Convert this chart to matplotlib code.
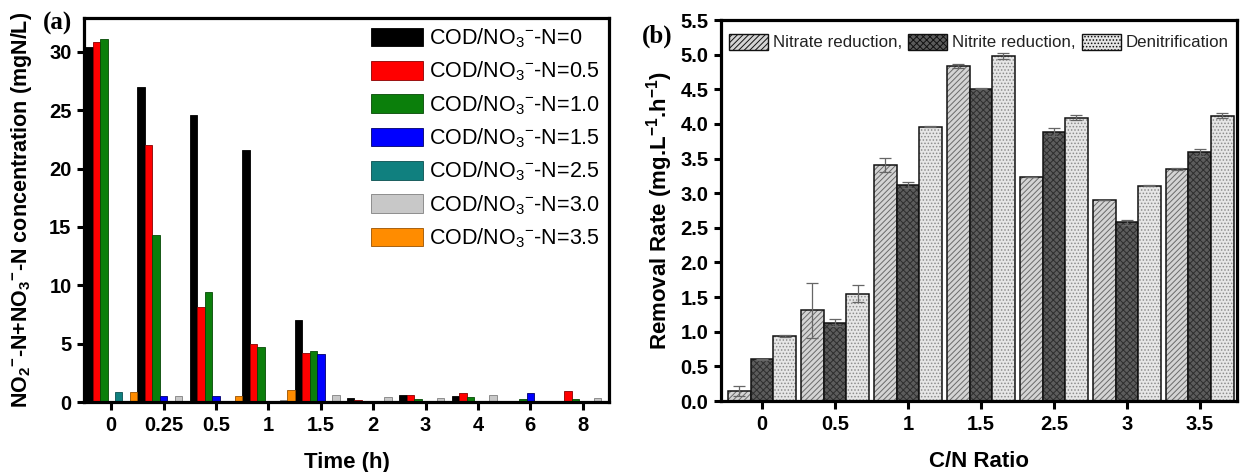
import numpy as np
import matplotlib
matplotlib.use("Agg")
import matplotlib.pyplot as plt
from matplotlib.patches import Patch

plt.rcParams['font.family'] = ['Liberation Sans', 'DejaVu Sans']
plt.rcParams['mathtext.fontset'] = 'custom'
plt.rcParams['mathtext.rm'] = 'Liberation Sans'
plt.rcParams['mathtext.it'] = 'Liberation Sans:italic'
plt.rcParams['mathtext.bf'] = 'Liberation Sans:bold'
plt.rcParams['hatch.linewidth'] = 0.7

# ---------------- panel (a): residual NOx-N over time ----------------
times = ['0', '0.25', '0.5', '1', '1.5', '2', '3', '4', '6', '8']
ratios_a = ['0', '0.5', '1.0', '1.5', '2.5', '3.0', '3.5']
conc_0 = [30.4, 27.0, 24.6, 21.6, 7.0, 0.35, 0.6, 0.5, 0.0, 0.0]
conc_05 = [30.8, 22.0, 8.1, 5.0, 4.2, 0.15, 0.6, 0.8, 0.0, 0.95]
conc_10 = [31.1, 14.3, 9.4, 4.7, 4.4, 0.0, 0.3, 0.4, 0.3, 0.25]
conc_15 = [0.0, 0.55, 0.55, 0.0, 4.1, 0.0, 0.0, 0.0, 0.8, 0.0]
conc_25 = [0.88, 0.0, 0.0, 0.0, 0.0, 0.0, 0.0, 0.0, 0.0, 0.0]
conc_30 = [0.0, 0.55, 0.0, 0.2, 0.6, 0.4, 0.35, 0.6, 0.0, 0.38]
conc_35 = [0.88, 0.0, 0.55, 1.05, 0.0, 0.0, 0.0, 0.0, 0.0, 0.0]
series_a = [conc_0, conc_05, conc_10, conc_15, conc_25, conc_30, conc_35]
colors_a = ['#000000', '#ff0000', '#0b7f0b', '#0000ff', '#10807f', '#c8c8c8', '#ff8c00']
edges_a = ['#000000', '#8a0000', '#064a06', '#00006a', '#0a4f4f', '#808080', '#9a5200']

# ---------------- panel (b): removal rates vs C/N ----------------
cn_ratio = ['0', '0.5', '1', '1.5', '2.5', '3', '3.5']
nitrate = [0.14, 1.31, 3.41, 4.84, 3.24, 2.90, 3.35]
nitrate_err = [0.07, 0.40, 0.10, 0.03, 0.0, 0.0, 0.02]
nitrite = [0.60, 1.13, 3.12, 4.51, 3.88, 2.58, 3.59]
nitrite_err = [0.01, 0.05, 0.04, 0.01, 0.06, 0.04, 0.05]
denit = [0.94, 1.55, 3.96, 4.98, 4.09, 3.11, 4.12]
denit_err = [0.01, 0.12, 0.01, 0.05, 0.04, 0.01, 0.04]
labels_b = ['Nitrate reduction,', 'Nitrite reduction,', 'Denitrification']

fig = plt.figure(figsize=(12.41, 4.72), dpi=100)
ax1 = fig.add_axes([0.0677, 0.1483, 0.4230, 0.8136])
ax2 = fig.add_axes([0.5810, 0.1504, 0.4158, 0.8072])

def style_axes(ax):
    for s in ax.spines.values():
        s.set_linewidth(2.3)
    ax.tick_params(axis='both', which='major', direction='out', width=2.2,
                   labelsize=14.5, pad=4)
    ax.tick_params(axis='x', length=6)
    ax.tick_params(axis='y', length=5)
    for lbl in ax.get_xticklabels() + ax.get_yticklabels():
        lbl.set_fontweight('bold')

# panel (a)
x = np.arange(len(times))
n = len(series_a)
w = 1.0 / n
for i, vals in enumerate(series_a):
    ax1.bar(x - 0.5 + w * (i + 0.5), vals, width=w, color=colors_a[i],
            edgecolor=edges_a[i], linewidth=0.6,
            label=r'COD/NO$_3{}^{-}$-N=' + ratios_a[i])
ax1.set_xlim(-0.52, len(times) - 0.5)
ax1.set_ylim(0, 32.9)
ax1.set_xticks(x)
ax1.set_xticklabels(times)
ax1.set_yticks([0, 5, 10, 15, 20, 25, 30])
style_axes(ax1)
ax1.set_xlabel('Time (h)', fontsize=16, fontweight='bold', labelpad=12)
ax1.set_ylabel(r'NO$_\mathbf{2}{}^\mathbf{-}$-N+NO$_\mathbf{3}{}^\mathbf{-}$-N concentration (mgN/L)',
               fontsize=15.5, fontweight='bold', labelpad=11)
ax1.legend(loc='upper right', frameon=False, fontsize=15.5, handlelength=2.4,
           handleheight=0.95, handletextpad=0.3, labelspacing=0.45,
           borderaxespad=0.0, bbox_to_anchor=(1.0, 1.0))

# panel (b)
xb = np.arange(len(cn_ratio))
wb = 0.31
styles_b = [
    dict(face='#d4d4d4', hatch='//////', hcol='#6a6a6a'),
    dict(face='#5c5c5c', hatch='xxxxx', hcol='#2e2e2e'),
    dict(face='#e6e6e6', hatch='.....', hcol='#8c8c8c'),
]
vals_b = [nitrate, nitrite, denit]
errs_b = [nitrate_err, nitrite_err, denit_err]
handles = []
for i, (vals, errs, st) in enumerate(zip(vals_b, errs_b, styles_b)):
    pos = xb + (i - 1) * wb
    ax2.bar(pos, vals, width=wb, color=st['face'], edgecolor=st['hcol'],
            hatch=st['hatch'], linewidth=0)
    ax2.bar(pos, vals, width=wb, fill=False, edgecolor='#111111', linewidth=1.1)
    ax2.errorbar(pos, vals, yerr=errs, fmt='none', ecolor='#666666',
                 elinewidth=0.9, capsize=4, capthick=0.9)
    handles.append(Patch(facecolor=st['face'], edgecolor=st['hcol'],
                         hatch=st['hatch'], linewidth=0))
ax2.set_xlim(-0.56, len(cn_ratio) - 0.49)
ax2.set_ylim(0, 5.5)
ax2.set_xticks(xb)
ax2.set_xticklabels(cn_ratio)
ax2.set_yticks(np.arange(0, 5.51, 0.5))
ax2.set_yticklabels([f'{v:.1f}' for v in np.arange(0, 5.51, 0.5)])
style_axes(ax2)
ax2.set_xlabel('C/N Ratio', fontsize=16, fontweight='bold', labelpad=12)
ax2.set_ylabel(r'Removal Rate (mg.L$^\mathbf{-1}$.h$^\mathbf{-1}$)',
               fontsize=16, fontweight='bold', labelpad=4)
leg = ax2.legend(handles, labels_b, loc='upper center', ncol=3, frameon=False,
                 fontsize=12.2, handlelength=2.3, handleheight=1.1,
                 handletextpad=0.3, columnspacing=0.35, borderaxespad=0.4,
                 bbox_to_anchor=(0.5, 1.0))
for h in leg.legend_handles:
    h.set_edgecolor('#111111')
    h.set_linewidth(1.0)
for t in leg.get_texts():
    t.set_color('#222222')

fig.text(58 / 1241, 1 - 23 / 472, '(a)', fontsize=18, fontweight='bold',
         family='Liberation Serif', ha='center', va='center')
fig.text(657 / 1241, 1 - 36 / 472, '(b)', fontsize=18, fontweight='bold',
         family='Liberation Serif', ha='center', va='center')

fig.savefig('out.png', dpi=100, facecolor='white')
